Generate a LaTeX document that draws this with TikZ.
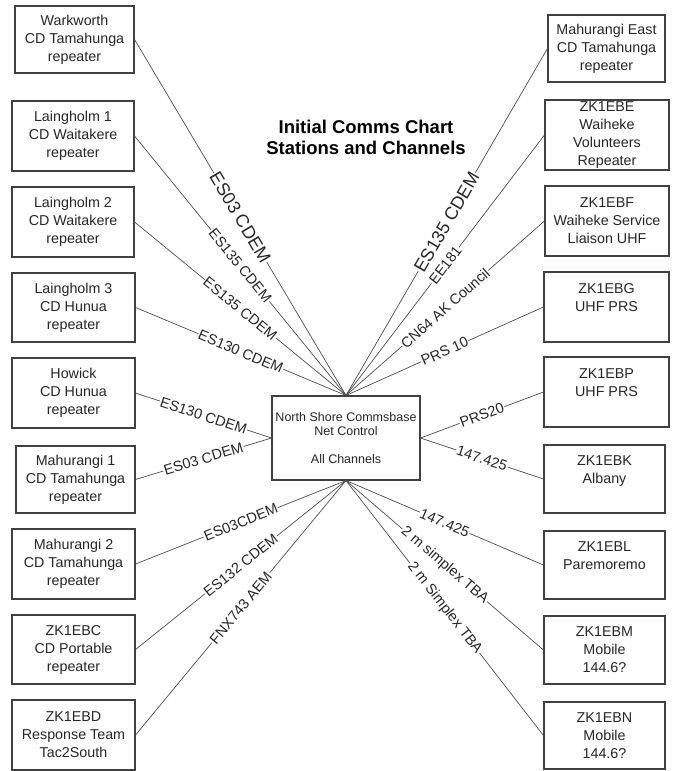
\documentclass[tikz,border=0pt]{standalone}
\usepackage{fontspec}
\setmainfont{Liberation Sans}
\begin{document}
\begin{tikzpicture}[x=1pt,y=-1pt,
  stn/.style={draw=black!75, line width=1.1pt, fill=white, align=center, inner sep=0pt,
    font=\fontsize{14.3}{18}\selectfont, text=black!85},
  hub/.style={stn, font=\fontsize{12.5}{14}\selectfont},
  link/.style={draw=black!70, line width=0.7pt},
  lab/.style={sloped, midway, fill=white, inner sep=0.8pt,
    font=\fontsize{14.5}{16}\selectfont, text=black!85},
  biglab/.style={lab, font=\fontsize{18}{20}\selectfont}]
\useasboundingbox (0,0) rectangle (677,771);

% title
\node[font=\bfseries\fontsize{18.5}{21}\selectfont, align=center] (T) at (366,137)
  {Initial Comms Chart\\Stations and Channels};

% hub
\node[hub, minimum width=148pt, minimum height=84pt] (C) at (346,438)
  {North Shore Commsbase\\Net Control\\\mbox{}\\All Channels};

% left column
\node[stn, minimum width=119pt, minimum height=67pt] (L1) at (74.5,39.5) {Warkworth\\CD Tamahunga\\repeater};
\node[stn, minimum width=122pt, minimum height=70pt] (L2) at (73,136) {Laingholm 1\\CD Waitakere\\repeater};
\node[stn, minimum width=122pt, minimum height=70pt] (L3) at (73,222) {Laingholm 2\\CD Waitakere\\repeater};
\node[stn, minimum width=123pt, minimum height=69pt] (L4) at (73.5,307.5) {Laingholm 3\\CD Hunua\\repeater};
\node[stn, minimum width=123pt, minimum height=70pt] (L5) at (73.5,393) {Howick\\CD Hunua\\repeater};
\node[stn, minimum width=119pt, minimum height=67pt] (L6) at (75.5,479.5) {Mahurangi 1\\CD Tamahunga\\repeater};
\node[stn, minimum width=123pt, minimum height=70pt] (L7) at (73.5,564) {Mahurangi 2\\CD Tamahunga\\repeater};
\node[stn, minimum width=123pt, minimum height=69pt] (L8) at (73.5,649.5) {ZK1EBC\\CD Portable\\repeater};
\node[stn, minimum width=123pt, minimum height=70pt] (L9) at (73.5,735) {ZK1EBD\\Response Team\\Tac2South};

% right column
\node[stn, minimum width=117pt, minimum height=67pt] (R1) at (606.5,48.5) {Mahurangi East\\CD Tamahunga\\repeater};
\node[stn, minimum width=124pt, minimum height=70pt] (R2) at (607,135) {ZK1EBE\\Waiheke\\Volunteers\\Repeater};
\node[stn, minimum width=124pt, minimum height=70pt] (R3) at (607,221) {ZK1EBF\\Waiheke Service\\Liaison UHF};
\node[stn, minimum width=125pt, minimum height=70pt] (R4) at (606.5,307) {ZK1EBG\\UHF PRS\\\mbox{}};
\node[stn, minimum width=125pt, minimum height=70pt] (R5) at (606.5,392) {ZK1EBP\\UHF PRS\\\mbox{}};
\node[stn, minimum width=121pt, minimum height=68pt] (R6) at (604.5,479) {ZK1EBK\\Albany\\\mbox{}};
\node[stn, minimum width=121pt, minimum height=68pt] (R7) at (604.5,565) {ZK1EBL\\Paremoremo\\\mbox{}};
\node[stn, minimum width=121pt, minimum height=68pt] (R8) at (604.5,650) {ZK1EBM\\Mobile\\144.6?};
\node[stn, minimum width=121pt, minimum height=67pt] (R9) at (604.5,735.5) {ZK1EBN\\Mobile\\144.6?};

% connectors, left
\draw[link] (L1.east) -- node[biglab]{ES03 CDEM} (C.north);
\draw[link] (L2.east) -- node[lab]{ES135 CDEM} (C.north);
\draw[link] (L3.east) -- node[lab]{ES135 CDEM} (C.north);
\draw[link] (L4.east) -- node[lab]{ES130 CDEM} (C.north);
\draw[link] (L5.east) -- node[lab]{ES130 CDEM} (C.west);
\draw[link] (L6.east) -- node[lab]{ES03 CDEM} (C.west);
\draw[link] (L7.east) -- node[lab]{ES03CDEM} (C.south);
\draw[link] (L8.east) -- node[lab]{ES132 CDEM} (C.south);
\draw[link] (L9.east) -- node[lab]{FNX743 AEM} (C.south);

% connectors, right
\draw[link] (R1.west) -- node[biglab]{ES135 CDEM} (C.north);
\draw[link] (R2.west) -- node[lab]{EE181} (C.north);
\draw[link] (R3.west) -- node[lab]{CN64 AK Council} (C.north);
\draw[link] (R4.west) -- node[lab]{PRS 10} (C.north);
\draw[link] (R5.west) -- node[lab]{PRS20} (C.east);
\draw[link] (R6.west) -- node[lab]{147.425} (C.east);
\draw[link] (R7.west) -- node[lab]{147.425} (C.south);
\draw[link] (R8.west) -- node[lab]{2 m simplex TBA} (C.south);
\draw[link] (R9.west) -- node[lab]{2 m Simplex TBA} (C.south);
\end{tikzpicture}
\end{document}
